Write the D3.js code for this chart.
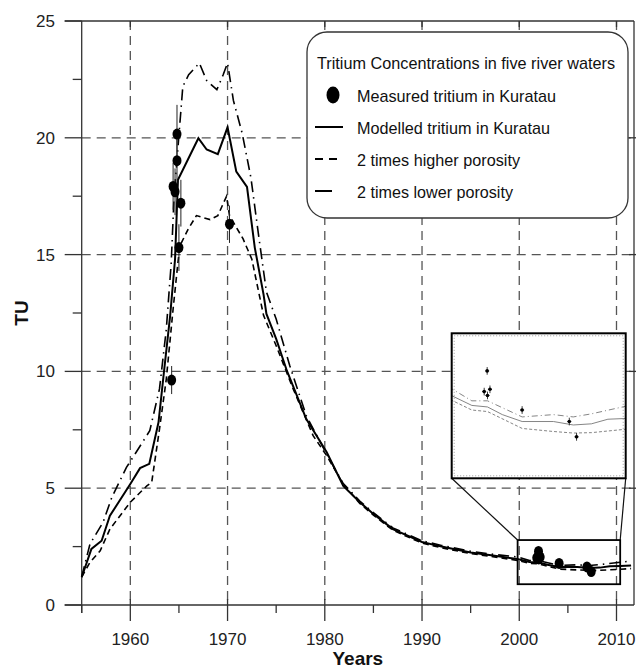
<!DOCTYPE html>
<html>
<head>
<meta charset="utf-8">
<script src="https://cdn.jsdelivr.net/npm/d3@7"></script>
<style>
  body { margin: 0; background: #fff; }
  svg { display: block; }
  .tick-label { font-family: "Liberation Sans", Arial, sans-serif; font-size: 17px; fill: #222; }
  .axis-title { font-family: "Liberation Sans", Arial, sans-serif; font-size: 19px; font-weight: bold; fill: #111; }
  .legend-text { font-family: "Liberation Sans", Arial, sans-serif; font-size: 17px; fill: #111; }
</style>
</head>
<body>
<div id="chart"></div>
<script>
  // tritium curves
  const modelYears = [1955.0, 1956.0, 1957.05, 1957.9, 1960.0, 1961.0, 1961.95, 1962.9, 1963.4, 1964.1, 1964.6, 1964.9, 1967.0, 1967.85, 1969.0, 1970.0, 1970.9, 1972.0, 1972.8, 1973.7, 1974.0, 1975.0, 1976.1, 1978.1, 1980.2, 1981.9, 1983.6, 1985, 1987, 1990, 1992, 1995, 1997.3, 1999.8, 2001.05, 2002.0, 2002.9, 2004.1, 2006.0, 2007.2, 2008.3, 2009.3, 2010.4, 2011.5],
    modelTU = [1.19, 2.40, 2.75, 3.82, 5.18, 5.86, 6.04, 7.82, 9.75, 12.4, 14.8, 18.2, 19.98, 19.5, 19.3, 20.45, 18.55, 17.9, 15.3, 13.3, 12.46, 11.39, 10.03, 7.96, 6.54, 5.1, 4.4, 3.9, 3.25, 2.7, 2.5, 2.25, 2.12, 1.97, 1.84, 1.82, 1.72, 1.63, 1.63, 1.585, 1.60, 1.66, 1.67, 1.69];

  const highYears = [1955.0, 1955.85, 1956.9, 1957.9, 1960.0, 1961.7, 1962.2, 1963.0, 1963.7, 1964.4, 1964.9, 1965.1, 1965.96, 1966.8, 1968.2, 1969.0, 1969.9, 1970.2, 1971.6, 1972.5, 1973.7, 1975.0, 1976.75, 1978.8, 1980.2, 1981.9, 1983.6, 1985, 1987, 1990, 1992, 1995, 1997.3, 1999.8, 2001.05, 2002.0, 2004.1, 2006.0, 2007.2, 2008.3, 2010.4, 2011.5],
    highTU = [1.2, 1.83, 2.32, 3.25, 4.4, 5.1, 5.25, 7.53, 9.67, 12.67, 14.67, 15.38, 16.1, 16.67, 16.5, 16.67, 17.5, 16.67, 15.67, 14.8, 12.4, 11.1, 9.25, 7.25, 6.39, 5.18, 4.35, 3.85, 3.2, 2.65, 2.45, 2.2, 2.07, 1.91, 1.78, 1.76, 1.54, 1.50, 1.48, 1.485, 1.53, 1.56];

  const lowYears = [1955.0, 1955.85, 1957.2, 1958.1, 1959.6, 1960.6, 1962.0, 1963.0, 1963.7, 1964.2, 1964.5, 1965.4, 1966.0, 1967.1, 1967.85, 1968.9, 1969.55, 1970.0, 1970.6, 1971.5, 1972.4, 1973.2, 1974.0, 1975.0, 1976.4, 1978.1, 1980.2, 1981.9, 1983.6, 1985, 1987, 1990, 1992, 1995, 1997.3, 1999.8, 2001.05, 2002.0, 2004.1, 2006.0, 2007.2, 2008.3, 2010.4, 2011.5],
    lowTU = [1.2, 2.61, 3.54, 4.61, 5.89, 6.54, 7.46, 9.25, 11.8, 14.6, 17.5, 22.2, 22.7, 23.2, 22.45, 22.06, 22.7, 23.2, 21.6, 20.2, 18.3, 15.8, 13.4, 12.24, 10.24, 8.1, 6.45, 5.2, 4.45, 3.95, 3.3, 2.75, 2.55, 2.3, 2.17, 2.06, 1.90, 1.90, 1.69, 1.72, 1.69, 1.73, 1.83, 1.88];

  // measured tritium in Kuratau with error bars
  const measYears = [1964.25, 1964.4, 1964.6, 1964.8, 1964.8, 1965.0, 1965.2, 1970.2, 2001.8, 2001.98, 2002.0, 2002.15, 2004.1, 2006.96, 2007.4],
    measTU = [9.63, 17.92, 17.69, 20.16, 19.02, 15.3, 17.2, 16.3, 2.02, 2.29, 1.97, 2.05, 1.78, 1.63, 1.43],
    measErr = [0.6, 1.0, 1.0, 1.25, 1.0, 1.0, 1.0, 0.8, 0.05, 0.05, 0.05, 0.05, 0.05, 0.05, 0.05];

  const xTicks = [1960, 1970, 1980, 1990, 2000, 2010],
    xMinor = [1955, 1965, 1975, 1985, 1995, 2005],
    yTicks = [0, 5, 10, 15, 20, 25],
    yMinor = [2.5, 7.5, 12.5, 17.5, 22.5],
    zoomYears = [1999.83, 2010.38], //region shown in the inset
    zoomTU = [0.89, 2.78];

  const legendTitle = "Tritium Concentrations in five river waters",
    legendLabels = ["Measured tritium in Kuratau", "Modelled tritium in Kuratau", "2 times higher porosity", "2 times lower porosity"],
    legendWidths = [199, 193, 163, 156];

  const width = 637, height = 669,
    plot = {left: 81.7, right: 634, top: 21, bottom: 605},
    inset = {left: 451.7, right: 625.7, top: 333.3, bottom: 478.3};

  const svg = d3.select("#chart").append("svg")
      .attr("width", width)
      .attr("height", height);

  const x = d3.scaleLinear().domain([1955, 2011.8]).range([plot.left, plot.right]),
    y = d3.scaleLinear().domain([0, 25]).range([plot.bottom, plot.top]);

  const toPts = (xs, ys) => xs.map((d, i) => [d, ys[i]]);
  const series = [
    {pts: toPts(highYears, highTU), dash: "6,4", w: 1.6, iDash: "3,2"},
    {pts: toPts(lowYears, lowTU), dash: "11,5,1.5,5", w: 1.6, iDash: "6,3,1,3"},
    {pts: toPts(modelYears, modelTU), dash: null, w: 2.0, iDash: null}
  ];

  //grid
  svg.append("g").selectAll("line")
    .data(xTicks)
    .enter().append("line")
      .attr("x1", d => x(d)).attr("x2", d => x(d))
      .attr("y1", plot.top).attr("y2", plot.bottom)
      .attr("stroke", "#555").attr("stroke-width", 1.3)
      .attr("stroke-dasharray", "9,6");

  svg.append("g").selectAll("line")
    .data(yTicks.filter(d => d > 0 && d < 25))
    .enter().append("line")
      .attr("x1", plot.left).attr("x2", plot.right)
      .attr("y1", d => y(d)).attr("y2", d => y(d))
      .attr("stroke", "#555").attr("stroke-width", 1.3)
      .attr("stroke-dasharray", "9,6");

  //frame and ticks
  const frame = svg.append("g").attr("stroke", "#333").attr("stroke-width", 1.3);
  frame.append("line").attr("x1", plot.left - 17).attr("x2", plot.right).attr("y1", plot.bottom).attr("y2", plot.bottom);
  frame.append("line").attr("x1", plot.left - 17).attr("x2", plot.right).attr("y1", plot.top).attr("y2", plot.top);
  frame.append("line").attr("x1", plot.left).attr("x2", plot.left).attr("y1", plot.top).attr("y2", plot.bottom + 8);
  frame.append("line").attr("x1", plot.right).attr("x2", plot.right).attr("y1", plot.top).attr("y2", plot.bottom);

  frame.selectAll(".ymaj").data(yTicks).enter().append("line")
    .attr("x1", plot.left - 17).attr("x2", plot.left)
    .attr("y1", d => y(d)).attr("y2", d => y(d));
  frame.selectAll(".ymin").data(yMinor).enter().append("line")
    .attr("x1", plot.left - 9).attr("x2", plot.left)
    .attr("y1", d => y(d)).attr("y2", d => y(d));
  frame.selectAll(".yright").data(yTicks.slice(1, 5)).enter().append("line")
    .attr("x1", plot.right - 5).attr("x2", plot.right + 2)
    .attr("y1", d => y(d)).attr("y2", d => y(d));
  frame.selectAll(".xmaj").data(xTicks).enter().append("line")
    .attr("x1", d => x(d)).attr("x2", d => x(d))
    .attr("y1", plot.bottom - 6).attr("y2", plot.bottom + 16);
  frame.selectAll(".xmin").data(xMinor).enter().append("line")
    .attr("x1", d => x(d)).attr("x2", d => x(d))
    .attr("y1", plot.bottom).attr("y2", plot.bottom + 8);
  frame.selectAll(".xtop").data(xTicks).enter().append("line")
    .attr("x1", d => x(d)).attr("x2", d => x(d))
    .attr("y1", plot.top).attr("y2", plot.top + 6);

  svg.selectAll(".ylab").data(yTicks).enter().append("text")
    .attr("class", "tick-label")
    .attr("x", 55).attr("y", d => y(d) + 6)
    .attr("text-anchor", "end")
    .text(d => d);
  svg.selectAll(".xlab").data(xTicks).enter().append("text")
    .attr("class", "tick-label")
    .attr("x", d => x(d)).attr("y", 645)
    .attr("text-anchor", "middle")
    .text(d => d);

  svg.append("text").attr("class", "axis-title")
    .attr("x", (plot.left + plot.right) / 2).attr("y", 665)
    .attr("text-anchor", "middle").text("Years");
  svg.append("text").attr("class", "axis-title")
    .attr("transform", "translate(28," + (plot.top + plot.bottom) / 2 + ") rotate(-90)")
    .attr("text-anchor", "middle").text("TU");

  //curves
  const line = d3.line().x(d => x(d[0])).y(d => y(d[1]));
  svg.append("g").selectAll("path")
    .data(series)
    .enter().append("path")
      .attr("d", d => line(d.pts))
      .attr("fill", "none")
      .attr("stroke", "#000")
      .attr("stroke-width", d => d.w)
      .attr("stroke-dasharray", d => d.dash);

  //measured points
  const meas = measYears.map((d, i) => ({yr: d, tu: measTU[i], err: measErr[i]}));
  svg.append("g").selectAll("line")
    .data(meas)
    .enter().append("line")
      .attr("x1", d => x(d.yr)).attr("x2", d => x(d.yr))
      .attr("y1", d => y(d.tu - d.err)).attr("y2", d => y(d.tu + d.err))
      .attr("stroke", "#222").attr("stroke-width", 1);
  svg.append("g").selectAll("ellipse")
    .data(meas)
    .enter().append("ellipse")
      .attr("cx", d => x(d.yr)).attr("cy", d => y(d.tu))
      .attr("rx", 4.5).attr("ry", 5.5)
      .attr("fill", "#000");

  //zoom box and connectors
  svg.append("rect")
    .attr("x", x(zoomYears[0])).attr("y", y(zoomTU[1]))
    .attr("width", x(zoomYears[1]) - x(zoomYears[0]))
    .attr("height", y(zoomTU[0]) - y(zoomTU[1]))
    .attr("fill", "none").attr("stroke", "#000").attr("stroke-width", 1.8);
  svg.append("line")
    .attr("x1", inset.left).attr("y1", inset.bottom)
    .attr("x2", x(zoomYears[0])).attr("y2", y(zoomTU[1]))
    .attr("stroke", "#111").attr("stroke-width", 1.2);
  svg.append("line")
    .attr("x1", inset.right).attr("y1", inset.bottom)
    .attr("x2", x(zoomYears[1])).attr("y2", y(zoomTU[1]))
    .attr("stroke", "#111").attr("stroke-width", 1.2);

  //inset
  const xi = d3.scaleLinear().domain(zoomYears).range([inset.left, inset.right]),
    yi = d3.scaleLinear().domain(zoomTU).range([inset.bottom, inset.top]);

  svg.append("clipPath").attr("id", "insetClip")
    .append("rect")
      .attr("x", inset.left).attr("y", inset.top)
      .attr("width", inset.right - inset.left).attr("height", inset.bottom - inset.top);

  svg.append("rect")
    .attr("x", inset.left).attr("y", inset.top)
    .attr("width", inset.right - inset.left).attr("height", inset.bottom - inset.top)
    .attr("fill", "#fff");

  const ig = svg.append("g").attr("clip-path", "url(#insetClip)");
  const iline = d3.line().x(d => xi(d[0])).y(d => yi(d[1]));
  ig.selectAll("path")
    .data(series)
    .enter().append("path")
      .attr("d", d => iline(d.pts))
      .attr("fill", "none")
      .attr("stroke", "#777")
      .attr("stroke-width", 0.9)
      .attr("stroke-dasharray", d => d.iDash);

  const inMeas = meas.filter(d => d.yr >= zoomYears[0]);
  ig.selectAll(".ebar").data(inMeas).enter().append("line")
    .attr("x1", d => xi(d.yr)).attr("x2", d => xi(d.yr))
    .attr("y1", d => yi(d.tu - d.err)).attr("y2", d => yi(d.tu + d.err))
    .attr("stroke", "#222").attr("stroke-width", 0.9);
  ig.selectAll(".ecap").data(inMeas).enter().append("line")
    .attr("x1", d => xi(d.yr) - 2).attr("x2", d => xi(d.yr) + 2)
    .attr("y1", d => yi(d.tu)).attr("y2", d => yi(d.tu))
    .attr("stroke", "#222").attr("stroke-width", 0.9);
  ig.selectAll("circle").data(inMeas).enter().append("circle")
    .attr("cx", d => xi(d.yr)).attr("cy", d => yi(d.tu))
    .attr("r", 1.8).attr("fill", "#000");

  svg.append("rect")
    .attr("x", inset.left + 2.5).attr("y", inset.top + 2.5)
    .attr("width", inset.right - inset.left - 5).attr("height", inset.bottom - inset.top - 5)
    .attr("fill", "none").attr("stroke", "#999").attr("stroke-width", 1)
    .attr("stroke-dasharray", "1,2");
  svg.append("rect")
    .attr("x", inset.left).attr("y", inset.top)
    .attr("width", inset.right - inset.left).attr("height", inset.bottom - inset.top)
    .attr("fill", "none").attr("stroke", "#000").attr("stroke-width", 2);

  //legend
  const lg = svg.append("g").attr("transform", "translate(307,32)");
  lg.append("rect")
    .attr("width", 321).attr("height", 186)
    .attr("rx", 20).attr("ry", 20)
    .attr("fill", "#fff").attr("stroke", "#333").attr("stroke-width", 1.3);
  lg.append("text").attr("class", "legend-text")
    .attr("x", 10).attr("y", 37)
    .attr("textLength", 298).attr("lengthAdjust", "spacingAndGlyphs")
    .text(legendTitle);

  const rowY = d => 70 + d * 32;
  lg.selectAll(".ltxt").data(legendLabels).enter().append("text")
    .attr("class", "legend-text")
    .attr("x", 50).attr("y", (d, i) => rowY(i))
    .attr("textLength", (d, i) => legendWidths[i]).attr("lengthAdjust", "spacingAndGlyphs")
    .text(d => d);

  lg.append("ellipse")
    .attr("cx", 26).attr("cy", rowY(0) - 7)
    .attr("rx", 6.5).attr("ry", 8.5).attr("fill", "#000");
  lg.append("line")
    .attr("x1", 8).attr("x2", 36).attr("y1", rowY(1) - 7).attr("y2", rowY(1) - 7)
    .attr("stroke", "#000").attr("stroke-width", 2);
  lg.append("line")
    .attr("x1", 8).attr("x2", 36).attr("y1", rowY(2) - 7).attr("y2", rowY(2) - 7)
    .attr("stroke", "#000").attr("stroke-width", 2).attr("stroke-dasharray", "8,6");
  lg.append("line")
    .attr("x1", 8).attr("x2", 25).attr("y1", rowY(3) - 7).attr("y2", rowY(3) - 7)
    .attr("stroke", "#000").attr("stroke-width", 2);
</script>
</body>
</html>
